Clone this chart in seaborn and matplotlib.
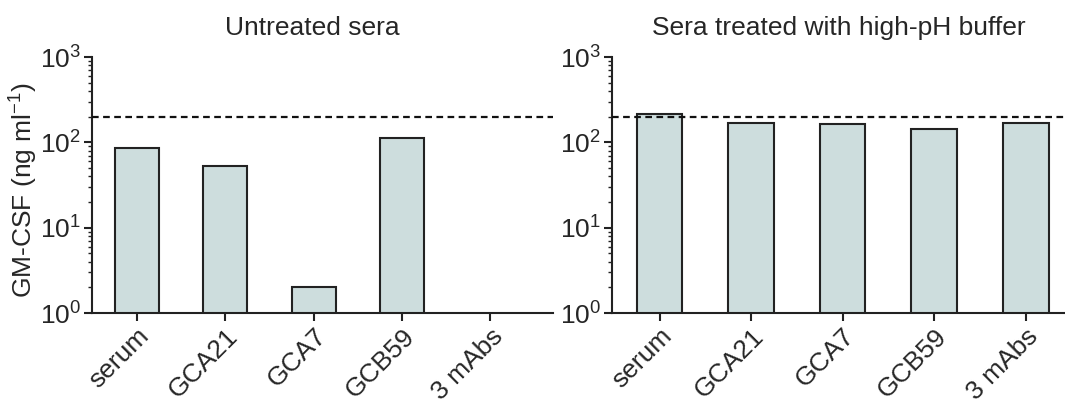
import matplotlib
matplotlib.use("Agg")
import matplotlib.pyplot as plt
import numpy as np
import pandas as pd
import seaborn as sns
from matplotlib.ticker import LogLocator, LogFormatterSciNotation, NullFormatter

# --- data ---
categories = ["serum", "GCA21", "GCA7", "GCB59", "3 mAbs"]
untreated = [85, 53, 2.0, 112, np.nan]       # 3 mAbs: no detectable bar
treated = [213, 168, 165, 145, 168]
reference_level = 200                         # dashed line
titles = ["Untreated sera", "Sera treated with high-pH buffer"]

BAR_COLOR = "#cddddd"

sns.set_theme(style="ticks")
plt.rcParams["font.family"] = ["Liberation Sans", "DejaVu Sans"]
plt.rcParams["mathtext.fontset"] = "custom"
plt.rcParams["mathtext.rm"] = "Liberation Sans"
plt.rcParams["mathtext.it"] = "Liberation Sans"

fig = plt.figure(figsize=(10.65, 4.03), dpi=100)
ax_left = fig.add_axes([0.0864, 0.2233, 0.433, 0.635])
ax_right = fig.add_axes([0.5746, 0.2233, 0.4254, 0.635])


def draw_panel(ax, values, title, xlim, title_x):
    df = pd.DataFrame({"sample": categories, "value": values})
    sns.barplot(data=df, x="sample", y="value", order=categories, ax=ax,
                color=BAR_COLOR, saturation=1, width=0.5,
                edgecolor="#222222", linewidth=1.5)
    ax.set_yscale("log")
    ax.set_ylim(1, 1000)
    ax.set_xlim(*xlim)
    ax.axhline(reference_level, color="#111111", linestyle=(0, (3, 2)),
               linewidth=1.6, clip_on=False, zorder=5)
    ax.yaxis.set_major_locator(LogLocator(base=10, numticks=5))
    ax.yaxis.set_major_formatter(LogFormatterSciNotation())
    ax.yaxis.set_minor_locator(LogLocator(base=10, subs=np.arange(2, 10), numticks=20))
    ax.yaxis.set_minor_formatter(NullFormatter())
    for side in ["top", "right"]:
        ax.spines[side].set_visible(False)
    for side in ["left", "bottom"]:
        ax.spines[side].set_linewidth(1.5)
        ax.spines[side].set_color("#222222")
    ax.tick_params(axis="both", which="major", direction="out", length=6,
                   width=1.5, color="#222222", labelsize=19, pad=2)
    ax.tick_params(axis="y", which="minor", direction="out", length=3,
                   width=1.0, color="#222222")
    ax.set_xticks(range(len(categories)))
    ax.set_xticklabels(categories, rotation=45, ha="right",
                       rotation_mode="anchor", fontsize=19)
    ax.set_xlabel("")
    ax.set_ylabel("")
    ax.set_title(title, fontsize=19, pad=16, x=title_x)


draw_panel(ax_left, untreated, titles[0], (-0.51, 4.71), 0.478)
draw_panel(ax_right, treated, titles[1], (-0.52, 4.43), 0.5)

ax_left.set_ylabel("GM-CSF (ng ml$^{-1}$)", fontsize=19)
ax_left.yaxis.set_label_coords(-0.113, 0.48)

fig.savefig("out.png", dpi=100)
